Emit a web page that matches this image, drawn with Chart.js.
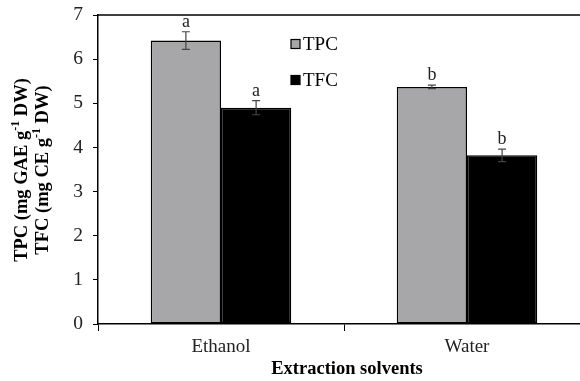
<!DOCTYPE html>
<html>
<head>
<meta charset="utf-8">
<script src="https://cdn.jsdelivr.net/npm/chart.js@4.4.1/dist/chart.umd.min.js"></script>
<style>
html,body{margin:0;padding:0;overflow:hidden;background:#fff;width:580px;height:381px;}
canvas{display:block;}
</style>
</head>
<body>
<canvas id="c" width="592" height="381" style="width:592px;height:381px"></canvas>
<script>
const categories = ['Ethanol', 'Water'];
const tpcValues = [6.42, 5.37];
const tpcErrors = [0.20, 0.04];
const tpcLetters = ['a', 'b'];
const tfcValues = [4.90, 3.82];
const tfcErrors = [0.16, 0.14];
const tfcLetters = ['a', 'b'];
const yTickValues = [0, 1, 2, 3, 4, 5, 6, 7];
const seriesNames = ['TPC', 'TFC'];
const xTitle = 'Extraction solvents';
const yTitle1 = ['TPC (mg GAE g', '-1', ' DW)'];
const yTitle2 = ['TFC (mg CE g', '-1', ' DW)'];

const SERIF = '"Liberation Serif", "Times New Roman", serif';
const errs = [tpcErrors, tfcErrors];
const letters = [tpcLetters, tfcLetters];

const extras = {
  id: 'extras',
  afterDatasetsDraw(chart) {
    const ctx = chart.ctx;
    const ca = chart.chartArea;
    const y = chart.scales.y;
    ctx.save();
    // top frame line
    ctx.strokeStyle = '#000';
    ctx.lineWidth = 1.5;
    ctx.beginPath();
    ctx.moveTo(ca.left, ca.top);
    ctx.lineTo(chart.width, ca.top);
    ctx.stroke();
    // error bars and letters
    chart.data.datasets.forEach((ds, di) => {
      const meta = chart.getDatasetMeta(di);
      meta.data.forEach((bar, i) => {
        const v = ds.data[i];
        const e = errs[di][i];
        const yt = y.getPixelForValue(v + e);
        const yb = y.getPixelForValue(v - e);
        const x = bar.x;
        ctx.strokeStyle = '#444';
        ctx.lineWidth = 1.2;
        ctx.beginPath();
        ctx.moveTo(x, yt); ctx.lineTo(x, yb);
        ctx.moveTo(x - 4, yt); ctx.lineTo(x + 4, yt);
        ctx.moveTo(x - 4, yb); ctx.lineTo(x + 4, yb);
        ctx.stroke();
        ctx.fillStyle = '#222';
        ctx.font = '18px ' + SERIF;
        ctx.textAlign = 'center';
        ctx.textBaseline = 'alphabetic';
        ctx.fillText(letters[di][i], x, yt - 5);
      });
    });
    // legend
    const legendY = [44, 80];
    chart.data.datasets.forEach((ds, di) => {
      const cy = legendY[di];
      ctx.fillStyle = ds.backgroundColor;
      ctx.fillRect(291, cy - 4.5, 9, 9);
      ctx.strokeStyle = '#000';
      ctx.lineWidth = 1.2;
      ctx.strokeRect(291, cy - 4.5, 9, 9);
      ctx.fillStyle = '#000';
      ctx.font = '19px ' + SERIF;
      ctx.textAlign = 'left';
      ctx.textBaseline = 'middle';
      ctx.fillText(ds.label, 303, cy + 1);
    });
    // x title
    ctx.fillStyle = '#000';
    ctx.font = 'bold 18.5px ' + SERIF;
    ctx.textAlign = 'center';
    ctx.textBaseline = 'middle';
    ctx.fillText(xTitle, 347, 369);
    // y titles (rotated with superscripts)
    function drawRot(parts, cx, cy) {
      ctx.save();
      ctx.translate(cx, cy);
      ctx.rotate(-Math.PI / 2);
      const big = 'bold 18.5px ' + SERIF;
      const small = 'bold 12px ' + SERIF;
      ctx.font = big; const w0 = ctx.measureText(parts[0]).width;
      ctx.font = small; const w1 = ctx.measureText(parts[1]).width;
      ctx.font = big; const w2 = ctx.measureText(parts[2]).width;
      let x = -(w0 + w1 + w2) / 2;
      ctx.textAlign = 'left';
      ctx.textBaseline = 'middle';
      ctx.fillStyle = '#000';
      ctx.font = big; ctx.fillText(parts[0], x, 0); x += w0;
      ctx.font = small; ctx.fillText(parts[1], x, -6); x += w1;
      ctx.font = big; ctx.fillText(parts[2], x, 0);
      ctx.restore();
    }
    drawRot(yTitle1, 22, 170);
    drawRot(yTitle2, 43, 170);
    ctx.restore();
  }
};

new Chart(document.getElementById('c'), {
  type: 'bar',
  data: {
    labels: categories,
    datasets: [
      { label: seriesNames[0], data: tpcValues, backgroundColor: '#a7a6a9', borderColor: '#000', borderWidth: 1.5, borderSkipped: false },
      { label: seriesNames[1], data: tfcValues, backgroundColor: '#000000', borderColor: '#000', borderWidth: 1.5, borderSkipped: false }
    ]
  },
  options: {
    responsive: false,
    animation: false,
    layout: { padding: { left: 0, top: 15, right: 2, bottom: 0 } },
    plugins: { legend: { display: false }, tooltip: { enabled: false } },
    datasets: { bar: { categoryPercentage: 0.571, barPercentage: 1.0 } },
    scales: {
      x: {
        grid: { display: true, offset: true, drawOnChartArea: false, drawTicks: true, tickLength: 7, color: '#000', lineWidth: 1 },
        border: { display: true, color: '#000', width: 1.5 },
        ticks: { color: '#222', font: { family: SERIF, size: 19 }, padding: 5 },
        afterFit(s) { s.height = 57; s.paddingLeft = 0; s.paddingRight = 0; }
      },
      y: {
        min: 0, max: 7,
        afterBuildTicks(s) { s.ticks = yTickValues.map(v => ({ value: v })); },
        grid: { display: true, drawOnChartArea: false, drawTicks: true, tickLength: 5, color: '#000', lineWidth: 1 },
        border: { display: true, color: '#000', width: 1.5 },
        ticks: { color: '#222', font: { family: SERIF, size: 19.5 }, padding: 10 },
        afterFit(s) { s.width = 98; s.paddingTop = 0; s.paddingBottom = 0; }
      }
    }
  },
  plugins: [extras]
});
</script>
</body>
</html>
